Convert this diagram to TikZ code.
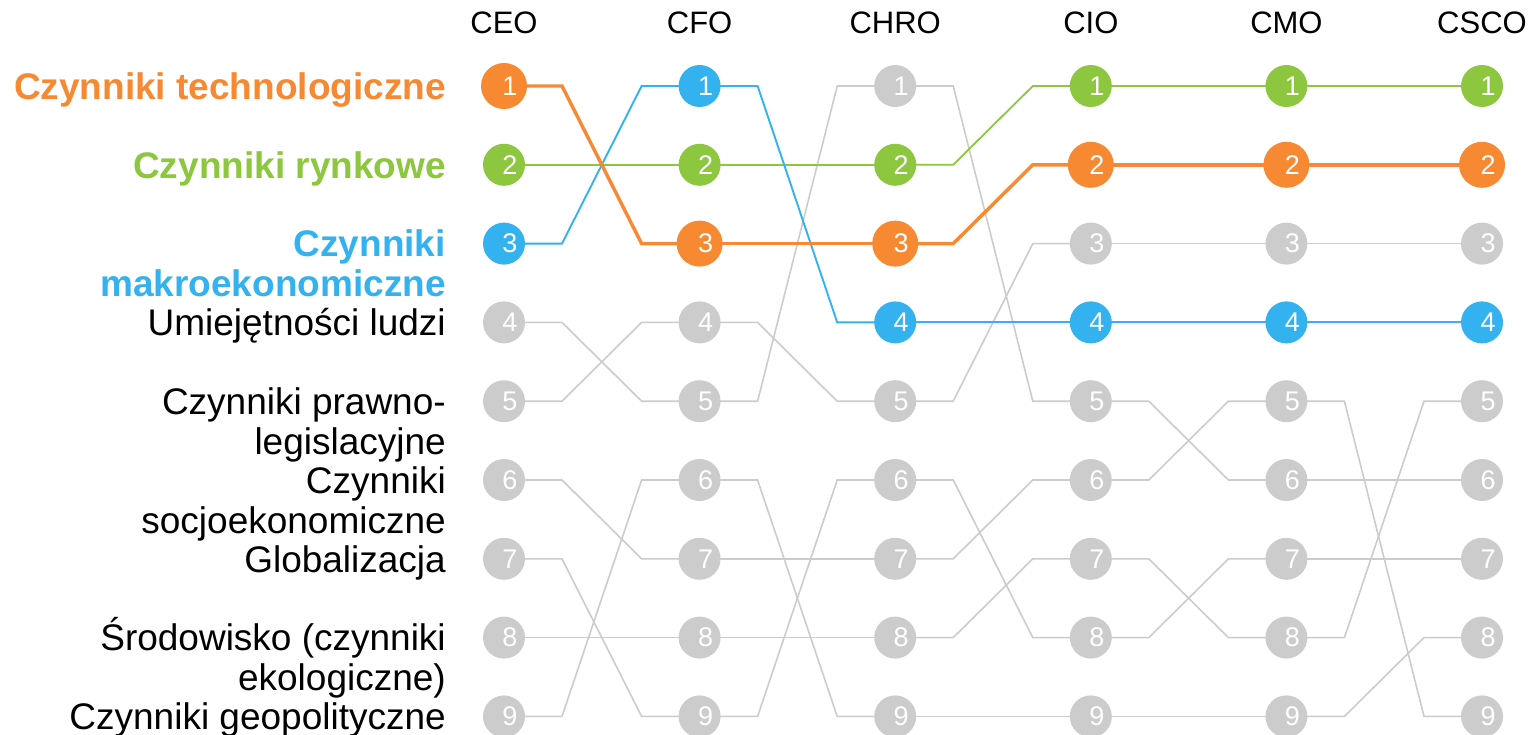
\documentclass[tikz,border=0pt]{standalone}
\usepackage{fontspec}
\setmainfont{Liberation Sans}
\definecolor{cOr}{RGB}{246,137,49}
\definecolor{cGr}{RGB}{141,198,63}
\definecolor{cBl}{RGB}{52,178,240}
\definecolor{cGy}{RGB}{204,204,204}
\pgfdeclarelayer{bg}
\pgfdeclarelayer{back}
\pgfsetlayers{back,bg,main}
\newcommand\labtab[1]{\begin{tabular}[t]{@{}r@{}}#1\end{tabular}}
\begin{document}
\begin{tikzpicture}[x=1pt,y=-1pt,
  dot/.style={circle,inner sep=0pt,draw=none,text=white,font=\fontsize{27}{27}\selectfont},
  hdr/.style={font=\fontsize{31}{31}\selectfont,anchor=center},
  lab/.style={anchor=base east,inner sep=0pt,font=\fontsize{37}{40}\selectfont},
  conn/.style={line join=miter}]
\begin{pgfonlayer}{back}
\fill[white] (0,0) rectangle (1533,734);
\end{pgfonlayer}
\useasboundingbox (0,0) rectangle (1533,734);
% headers
\foreach \h [count=\c] in {CEO,CFO,CHRO,CIO,CMO,CSCO}
  \node[hdr] (h\h) at ({504+(\c-1)*195.6},23) {\h};
% series
\foreach \s/\col/\lw/\rad/\ranks in {
  D/cGy/1.6/42/{4,5,1,5,6,6},
  E/cGy/1.6/42/{5,4,5,3,3,3},
  F/cGy/1.6/42/{6,7,7,6,5,9},
  G/cGy/1.6/42/{7,9,6,8,7,7},
  H/cGy/1.6/42/{8,8,8,7,8,5},
  I/cGy/1.6/42/{9,6,9,9,9,8},
  B/cGr/1.8/42/{2,2,2,1,1,1},
  C/cBl/1.9/42/{3,1,4,4,4,4},
  A/cOr/3.4/46/{1,3,3,2,2,2}}{
  \foreach \r [count=\c] in \ranks
    \node[dot,fill=\col,minimum size=\rad pt] (\s\c) at ({504+(\c-1)*195.6},{86+(\r-1)*78.8}) {\hspace*{12pt}\r};
  \begin{pgfonlayer}{bg}
  \foreach \c [evaluate=\c as \n using int(\c+1)] in {1,...,5}
    \draw[conn,draw=\col,line width=\lw pt] (\s\c.center) -- ++(58,0) -- ([xshift=-58pt]\s\n.center) -- (\s\n.center);
  \end{pgfonlayer}
}
% labels
\node[lab,text=cOr,font=\fontsize{37}{40}\selectfont\bfseries] (lA) at (446,99.3) {\labtab{Czynniki technologiczne}};
\node[lab,text=cGr,font=\fontsize{37}{40}\selectfont\bfseries] (lB) at (446,178.1) {\labtab{Czynniki rynkowe}};
\node[lab,text=cBl,font=\fontsize{37}{40}\selectfont\bfseries] (lC) at (446,256.9) {\labtab{Czynniki\\makroekonomiczne}};
\node[lab] (lD) at (446,335.7) {\labtab{Umiejętności ludzi}};
\node[lab] (lE) at (446,414.5) {\labtab{Czynniki prawno-\\legislacyjne}};
\node[lab] (lF) at (446,493.3) {\labtab{Czynniki\\socjoekonomiczne}};
\node[lab] (lG) at (446,572.1) {\labtab{Globalizacja}};
\node[lab] (lH) at (446,650.9) {\labtab{Środowisko (czynniki\\ekologiczne)}};
\node[lab] (lI) at (446,729.7) {\labtab{Czynniki geopolityczne}};
\end{tikzpicture}
\end{document}
